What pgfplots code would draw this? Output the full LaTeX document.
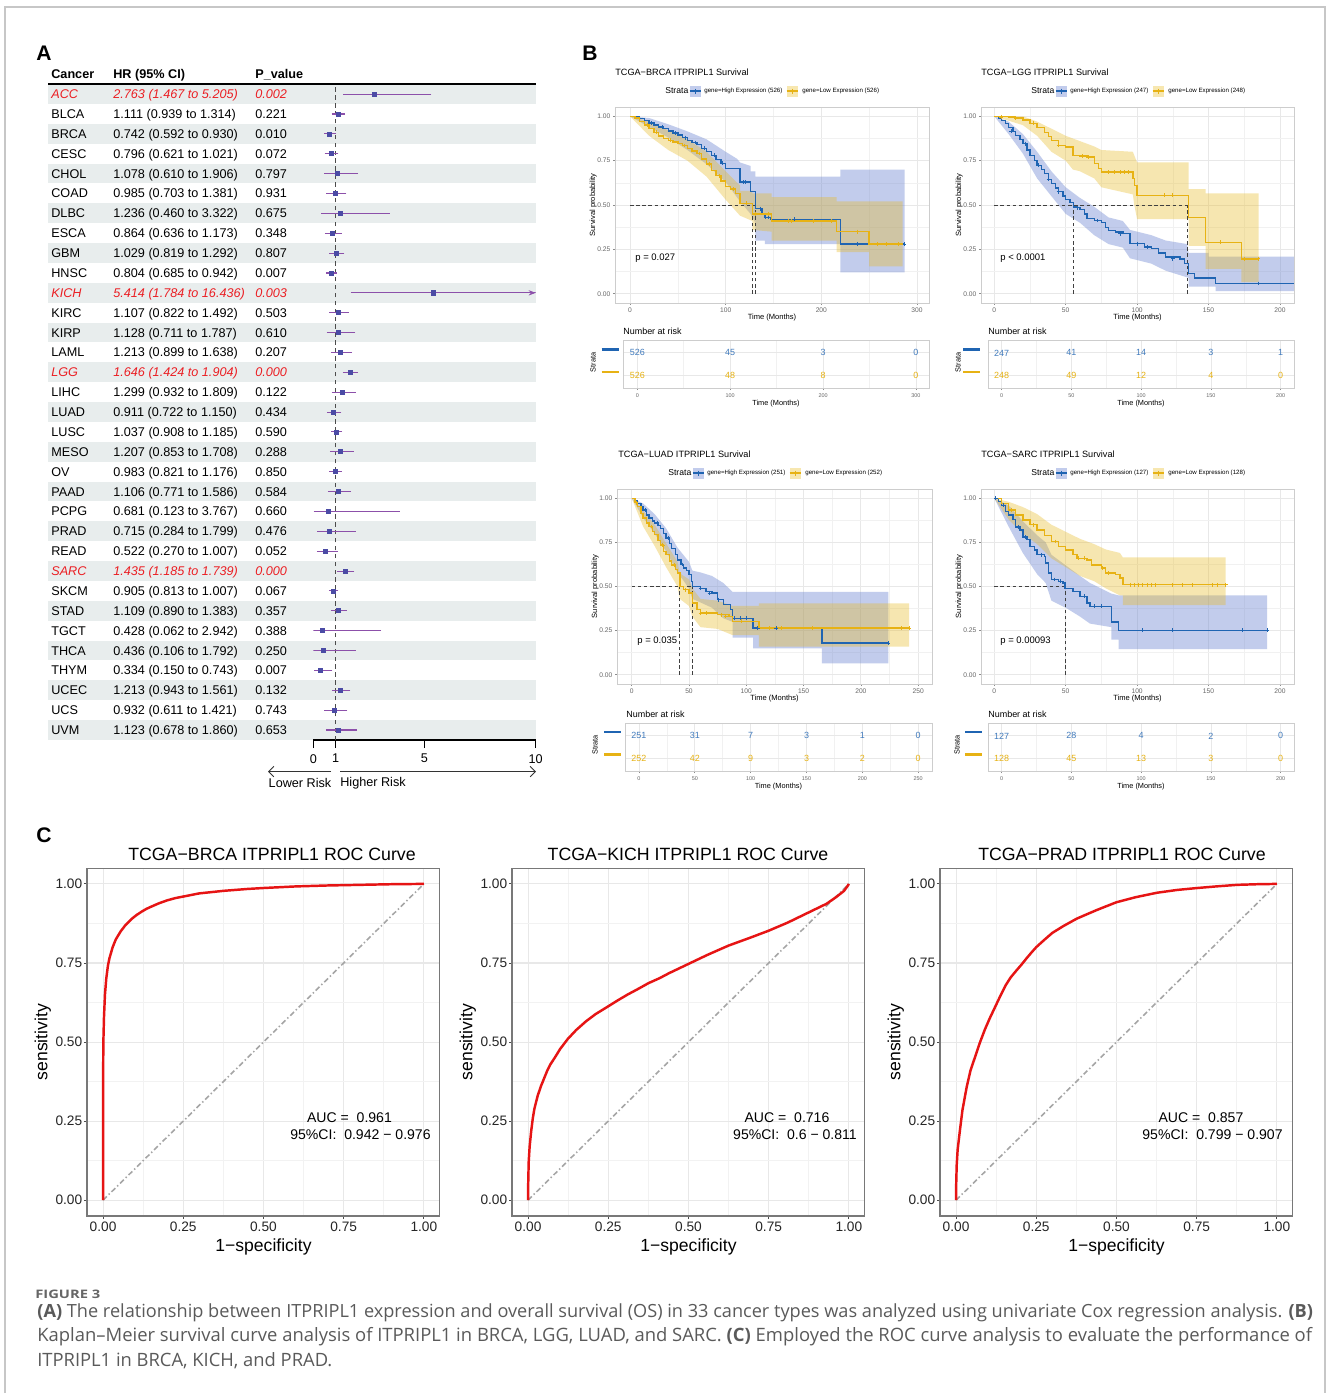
\documentclass[border=0pt]{standalone}
\usepackage{fontspec}
\setmainfont{Liberation Sans}
\newfontfamily\capfont{Open Sans}
\usepackage{graphicx}
\usepackage{pgfplots}
\usepackage{pgfplotstable}
\pgfplotsset{compat=1.18}
\usetikzlibrary{arrows.meta}

\definecolor{fred}{RGB}{235,30,35}
\definecolor{rowbg}{RGB}{232,237,237}
\definecolor{ciline}{RGB}{140,80,170}
\definecolor{cipt}{RGB}{75,75,165}
\definecolor{kmblue}{RGB}{31,100,178}
\definecolor{kmyel}{RGB}{231,178,20}
\definecolor{kmbluer}{RGB}{110,135,210}
\definecolor{kmyelr}{RGB}{232,185,30}
\definecolor{kmbluekey}{RGB}{194,204,236}
\definecolor{kmyelkey}{RGB}{247,231,176}
\definecolor{kmgrid}{RGB}{232,232,232}
\definecolor{kmframe}{RGB}{205,205,205}
\definecolor{rocred}{RGB}{230,20,20}
\definecolor{rocdiag}{RGB}{165,165,165}
\definecolor{rocframe}{RGB}{120,120,120}
\definecolor{capgray}{RGB}{90,90,90}

\newcommand\fs[1]{\fontsize{#1}{#1}\selectfont}

% forest plot: hazard ratios with 95% CI
\pgfplotstableread{
i hr lo hi
1 2.763 1.467 5.205
2 1.111 0.939 1.314
3 0.742 0.592 0.930
4 0.796 0.621 1.021
5 1.078 0.610 1.906
6 0.985 0.703 1.381
7 1.236 0.460 3.322
8 0.864 0.636 1.173
9 1.029 0.819 1.292
10 0.804 0.685 0.942
11 5.414 1.784 16.436
12 1.107 0.822 1.492
13 1.128 0.711 1.787
14 1.213 0.899 1.638
15 1.646 1.424 1.904
16 1.299 0.932 1.809
17 0.911 0.722 1.150
18 1.037 0.908 1.185
19 1.207 0.853 1.708
20 0.983 0.821 1.176
21 1.106 0.771 1.586
22 0.681 0.123 3.767
23 0.715 0.284 1.799
24 0.522 0.270 1.007
25 1.435 1.185 1.739
26 0.905 0.813 1.007
27 1.109 0.890 1.383
28 0.428 0.062 2.942
29 0.436 0.106 1.792
30 0.334 0.150 0.743
31 1.213 0.943 1.561
32 0.932 0.611 1.421
33 1.123 0.678 1.860
}\forestdata

\pgfplotsset{
  /pgf/number format/assume math mode=true,
  km/.style={scale only axis, anchor=south west,
    axis line style={kmframe, line width=0.5pt},
    grid=both,
    major grid style={kmgrid, line width=0.5pt},
    minor grid style={kmgrid!60, line width=0.3pt},
    tick pos=left, tick align=outside,
    major tick length=0.04cm, minor tick length=0cm,
    tick style={black!45, line width=0.4pt},
    ymin=-0.052, ymax=1.052,
    ytick={0,0.25,0.5,0.75,1}, yticklabels={0.00,0.25,0.50,0.75,1.00},
    minor ytick={0.125,0.375,0.625,0.875},
    tick label style={font=\fs{3.8}, text=black!60},
    xticklabel shift=-2pt, yticklabel shift=-2pt,
    xlabel={Time (Months)}, ylabel={Survival probability},
    label style={font=\fs{4.3}, text=black},
    xlabel shift=-6pt, ylabel shift=-6.5pt,
  },
  risk/.style={scale only axis, anchor=south west, height=0.96cm,
    ymin=0.42, ymax=2.58, ytick={1,2}, yticklabels={},
    axis line style={kmframe, line width=0.5pt},
    grid=both,
    major grid style={kmgrid, line width=0.5pt},
    minor grid style={kmgrid!60, line width=0.3pt},
    tick pos=left, tick align=outside,
    major tick length=0.04cm, minor tick length=0cm,
    xtick style={black!45, line width=0.4pt}, ytick style={draw=none},
    tick label style={font=\fs{3.1}, text=black!60},
    xticklabel shift=-1.5pt,
    xlabel={Time (Months)}, label style={font=\fs{4.2}, text=black},
    xlabel shift=-5.3pt,
  },
  rn/.style={draw=none, mark=none, nodes near coords, point meta=explicit symbolic,
    every node near coord/.append style={anchor=center, font=\fs{5.1}, text=#1}},
  roc/.style={scale only axis, anchor=south west, width=7.06cm, height=6.96cm,
    xmin=-0.05, xmax=1.05, ymin=-0.05, ymax=1.05,
    xtick={0,0.25,0.5,0.75,1}, ytick={0,0.25,0.5,0.75,1},
    xticklabels={0.00,0.25,0.50,0.75,1.00}, yticklabels={0.00,0.25,0.50,0.75,1.00},
    minor xtick={0.125,0.375,0.625,0.875}, minor ytick={0.125,0.375,0.625,0.875},
    grid=both,
    major grid style={kmgrid, line width=0.6pt},
    minor grid style={kmgrid!55, line width=0.35pt},
    axis line style={rocframe, line width=0.6pt},
    tick pos=left, tick align=outside,
    major tick length=0.06cm, minor tick length=0cm,
    tick style={black!70, line width=0.5pt},
    tick label style={font=\fs{7.8}, text=black!85},
    xticklabel shift=-2pt, yticklabel shift=-2.5pt,
    xlabel={1−specificity}, ylabel={sensitivity},
    label style={font=\fs{10}, text=black},
    xlabel shift=-2.5pt, ylabel shift=-4.3pt,
  },
  rib/.style={fill=#1, draw=none},
  kmline/.style={#1, const plot, line width=0.8pt},
  cens/.style={#1, only marks, mark=+, mark size=1.1pt, line width=0.4pt},
  med/.style={black!75, dash pattern=on 2pt off 1.5pt, line width=0.4pt, unbounded coords=jump},
  diag/.style={rocdiag, line width=0.9pt, dash pattern=on 3pt off 1.5pt on 0.8pt off 1.5pt},
  rocc/.style={rocred, line width=1.4pt, line join=round},
}

% one row of the forest table: index, name, HR text, p, text style
\newcommand\frow[5]{%
  \pgfmathsetmacro\yy{94+(#1-1)*19.875+4.6}%
  \node[anchor=base west, inner sep=0, font=\fs{7.2}] at (51,\yy) {#5#2};
  \node[anchor=base west, inner sep=0, font=\fs{7.2}] at (113,\yy) {#5#3};
  \node[anchor=base west, inner sep=0, font=\fs{7.2}] at (255,\yy) {#5#4};
}
% KM legend glyph: x, y, line colour, fill colour
\newcommand\kmkey[4]{%
  \fill[#4] (#1-5.5,#2-5.5) rectangle (#1+5.5,#2+5.5);
  \draw[#3, line width=0.7pt] (#1-5.5,#2) -- (#1+5.5,#2);
  \draw[#3, line width=0.45pt] (#1,#2-2.5) -- (#1,#2+2.5);
}
% KM header: title, x, y, n high, n low
\newcommand\kmhead[5]{%
  \node[anchor=base west, inner sep=0, font=\fs{5.2}] at (#2,#3) {#1};
  \node[anchor=west, inner sep=0, font=\fs{4.9}] at (#2+50,#3+16) {Strata};
  \kmkey{#2+80}{#3+16}{kmblue}{kmbluekey}
  \node[anchor=west, inner sep=0, font=\fs{3.5}] at (#2+89,#3+16) {gene=High Expression (#4)};
  \kmkey{#2+177}{#3+16}{kmyel}{kmyelkey}
  \node[anchor=west, inner sep=0, font=\fs{3.5}] at (#2+187,#3+16) {gene=Low Expression (#5)};
}
% risk table side: x of keys, y of first row, x of title, x of Strata
\newcommand\kmside[4]{%
  \node[anchor=west, inner sep=0, font=\fs{5.1}] at (#3,#2-18) {Number at risk};
  \draw[kmblue, line width=1.6pt] (#1,#2) -- (#1+17,#2);
  \draw[kmyel, line width=1.6pt] (#1,#2+22.5) -- (#1+17,#2+22.5);
  \node[rotate=90, inner sep=0, font=\fs{4.2}] at (#4,#2+13) {Strata};
}

\begin{document}
\begin{tikzpicture}[x=0.02cm, y=-0.02cm]
\fill[white] (0,0) rectangle (1328,1394);
\draw[black!22, line width=0.6pt] (5,1393) -- (5,7) -- (1325,7) -- (1325,1393);

\coordinate (fA) at (313.3,740);
\coordinate (kA) at (615,303);
\coordinate (kB) at (981,303);
\coordinate (kC) at (617,684);
\coordinate (kD) at (981,684);
\coordinate (rA) at (623,388);
\coordinate (rB) at (988,388);
\coordinate (rC) at (625,771);
\coordinate (rD) at (988,771);
\coordinate (cA) at (87,1216);
\coordinate (cB) at (512,1216);
\coordinate (cC) at (940,1216);

% ---------------- panel A ----------------
\node[anchor=base west, inner sep=0, font=\fs{12}\bfseries] at (36,60) {A};
\foreach \i in {1,3,...,33} {
  \fill[rowbg] (48,{94+(\i-1)*19.875-9.94}) rectangle (536,{94+(\i-1)*19.875+9.94});
}
\node[anchor=base west, inner sep=0, font=\fs{7.2}\bfseries] at (51,78) {Cancer};
\node[anchor=base west, inner sep=0, font=\fs{7.2}\bfseries] at (113,78) {HR (95\% CI)};
\node[anchor=base west, inner sep=0, font=\fs{7.2}\bfseries] at (255,78) {P\_value};
\draw[black, line width=1.1pt] (48,84) -- (536,84);

\def\R{\color{fred}\itshape}
\frow{1}{ACC}{2.763 (1.467 to 5.205)}{0.002}{\R}
\frow{2}{BLCA}{1.111 (0.939 to 1.314)}{0.221}{}
\frow{3}{BRCA}{0.742 (0.592 to 0.930)}{0.010}{}
\frow{4}{CESC}{0.796 (0.621 to 1.021)}{0.072}{}
\frow{5}{CHOL}{1.078 (0.610 to 1.906)}{0.797}{}
\frow{6}{COAD}{0.985 (0.703 to 1.381)}{0.931}{}
\frow{7}{DLBC}{1.236 (0.460 to 3.322)}{0.675}{}
\frow{8}{ESCA}{0.864 (0.636 to 1.173)}{0.348}{}
\frow{9}{GBM}{1.029 (0.819 to 1.292)}{0.807}{}
\frow{10}{HNSC}{0.804 (0.685 to 0.942)}{0.007}{}
\frow{11}{KICH}{5.414 (1.784 to 16.436)}{0.003}{\R}
\frow{12}{KIRC}{1.107 (0.822 to 1.492)}{0.503}{}
\frow{13}{KIRP}{1.128 (0.711 to 1.787)}{0.610}{}
\frow{14}{LAML}{1.213 (0.899 to 1.638)}{0.207}{}
\frow{15}{LGG}{1.646 (1.424 to 1.904)}{0.000}{\R}
\frow{16}{LIHC}{1.299 (0.932 to 1.809)}{0.122}{}
\frow{17}{LUAD}{0.911 (0.722 to 1.150)}{0.434}{}
\frow{18}{LUSC}{1.037 (0.908 to 1.185)}{0.590}{}
\frow{19}{MESO}{1.207 (0.853 to 1.708)}{0.288}{}
\frow{20}{OV}{0.983 (0.821 to 1.176)}{0.850}{}
\frow{21}{PAAD}{1.106 (0.771 to 1.586)}{0.584}{}
\frow{22}{PCPG}{0.681 (0.123 to 3.767)}{0.660}{}
\frow{23}{PRAD}{0.715 (0.284 to 1.799)}{0.476}{}
\frow{24}{READ}{0.522 (0.270 to 1.007)}{0.052}{}
\frow{25}{SARC}{1.435 (1.185 to 1.739)}{0.000}{\R}
\frow{26}{SKCM}{0.905 (0.813 to 1.007)}{0.067}{}
\frow{27}{STAD}{1.109 (0.890 to 1.383)}{0.357}{}
\frow{28}{TGCT}{0.428 (0.062 to 2.942)}{0.388}{}
\frow{29}{THCA}{0.436 (0.106 to 1.792)}{0.250}{}
\frow{30}{THYM}{0.334 (0.150 to 0.743)}{0.007}{}
\frow{31}{UCEC}{1.213 (0.943 to 1.561)}{0.132}{}
\frow{32}{UCS}{0.932 (0.611 to 1.421)}{0.743}{}
\frow{33}{UVM}{1.123 (0.678 to 1.860)}{0.653}{}

\begin{axis}[scale only axis, anchor=south west, at={(fA)},
  width=4.448cm, height=13.12cm,
  xmin=0, xmax=10, ymin=-33.503, ymax=-0.497,
  axis x line*=bottom, axis y line=none,
  xtick={0,1,5,10}, tick align=outside, major tick length=0.16cm,
  axis line style={black, line width=0.6pt}, xtick style={black, line width=0.6pt},
  tick label style={font=\fs{7.2}, text=black}]
\addplot[black!70, line width=0.5pt, dash pattern=on 2.5pt off 2pt] coordinates {(1,-33.503) (1,-0.497)};
\addplot[only marks, mark=square*, mark size=1.15pt, mark options={fill=cipt, draw=cipt},
  error bars/.cd, x dir=both, x explicit,
  error bar style={ciline, line width=0.6pt},
  error mark options={ciline, mark size=1.4pt, line width=0.6pt}]
  table[x=hr, y expr=-\thisrow{i},
        x error plus expr=\thisrow{hi}-\thisrow{hr},
        x error minus expr=\thisrow{hr}-\thisrow{lo}] {\forestdata};
\addplot[ciline, line width=0.6pt, -{Stealth[length=4pt, width=3pt]}] coordinates {(9,-11) (10,-11)};
\end{axis}
\node[anchor=center, font=\fs{7.2}] at (300,783) {Lower Risk};
\node[anchor=west, inner sep=0, font=\fs{7.2}] at (340,783) {Higher Risk};
\draw[black!80, line width=0.5pt, -{Straight Barb[length=3pt]}] (331,771.5) -- (268,771.5);
\draw[black!80, line width=0.5pt, -{Straight Barb[length=3pt]}] (340,771.5) -- (536,771.5);

% ---------------- panel B ----------------
\node[anchor=base west, inner sep=0, font=\fs{12}\bfseries] at (582,60) {B};
\kmhead{TCGA−BRCA ITPRIPL1 Survival}{615}{75}{526}{526}
\kmhead{TCGA−LGG ITPRIPL1 Survival}{981}{75}{247}{248}
\kmhead{TCGA−LUAD ITPRIPL1 Survival}{618}{457}{251}{252}
\kmhead{TCGA−SARC ITPRIPL1 Survival}{981}{457}{127}{128}

% BRCA
\begin{axis}[km, at={(kA)}, width=6.28cm, height=3.92cm, xmin=-15.7, xmax=312.5,
  xtick={0,100,200,300}, minor xtick={50,150,250}]
\addplot[rib=kmbluer, fill opacity=0.42] coordinates {(0,1) (20,0.99) (40,0.955) (60,0.915) (80,0.87) (100,0.80) (112,0.76) (115,0.74) (126,0.72) (126,0.69) (131,0.69) (131,0.66) (220,0.66) (220,0.70) (287,0.70)
  (287,0.12) (220,0.12) (220,0.28) (141,0.28) (141,0.30) (131,0.30) (131,0.40) (126,0.45) (115,0.52) (100,0.63) (80,0.73) (60,0.81) (40,0.88) (20,0.94) (0,1)};
\addplot[rib=kmyelr, fill opacity=0.35] coordinates {(0,1) (20,0.97) (40,0.92) (60,0.87) (80,0.80) (100,0.69) (115,0.61) (115,0.58) (128,0.58) (128,0.565) (148,0.565) (148,0.545) (216,0.545) (216,0.52) (285,0.52)
  (285,0.155) (250,0.155) (250,0.235) (216,0.235) (216,0.30) (148,0.30) (148,0.35) (128,0.36) (128,0.41) (115,0.44) (100,0.53) (80,0.66) (60,0.75) (40,0.81) (20,0.89) (0,1)};
\addplot[med] coordinates {(0,0.5) (131,0.5) (nan,nan) (128,0) (128,0.5) (nan,nan) (131,0) (131,0.5)};
\addplot[kmline=kmblue] coordinates {(0,1) (5,0.995) (10,0.987) (15,0.975) (20,0.962) (25,0.95) (30,0.94) (35,0.93) (40,0.918) (45,0.905) (50,0.895) (55,0.88) (60,0.865) (65,0.852) (70,0.84) (75,0.82) (80,0.80) (85,0.78) (90,0.755) (95,0.735) (100,0.705) (115,0.63) (126,0.575) (131,0.48) (138,0.45) (141,0.43) (147,0.42) (220,0.28) (287,0.28)};
\addplot[kmline=kmyel] coordinates {(0,1) (5,0.99) (10,0.972) (15,0.95) (20,0.93) (25,0.91) (30,0.89) (35,0.875) (40,0.865) (45,0.855) (50,0.848) (55,0.835) (60,0.82) (65,0.805) (70,0.79) (75,0.76) (80,0.73) (85,0.695) (90,0.665) (95,0.635) (100,0.605) (105,0.59) (110,0.565) (115,0.51) (128,0.45) (148,0.41) (216,0.35) (250,0.28) (285,0.28)};
\addplot[cens=kmblue] coordinates {(22,0.962) (34,0.94) (47,0.905) (58,0.88) (68,0.852) (78,0.82) (88,0.78) (97,0.735) (118,0.63) (121,0.63) (136,0.48) (142,0.43) (145,0.43) (172,0.42) (238,0.28) (287,0.28)};
\addplot[cens=kmyel] coordinates {(18,0.95) (28,0.91) (42,0.865) (57,0.835) (72,0.79) (83,0.73) (93,0.665) (108,0.59) (122,0.51) (131,0.45) (145,0.45) (165,0.41) (169,0.41) (192,0.41) (210,0.41) (238,0.35) (259,0.28) (268,0.28) (280,0.28)};
\end{axis}
\node[anchor=west, inner sep=0, font=\fs{5.4}] at (635,258) {p = 0.027};

% LGG
\begin{axis}[km, at={(kB)}, width=6.26cm, height=3.92cm, xmin=-9.3, xmax=209.8,
  xtick={0,50,100,150,200}, minor xtick={25,75,125,175}]
\addplot[rib=kmbluer, fill opacity=0.42] coordinates {(0,1) (10,0.97) (20,0.90) (30,0.80) (40,0.69) (50,0.60) (60,0.54) (70,0.49) (80,0.43) (90,0.41) (95,0.36) (110,0.33) (120,0.30) (135,0.28) (136,0.23) (150,0.23) (150,0.21) (210,0.21)
  (210,0.015) (155,0.015) (155,0.04) (136,0.04) (136,0.09) (120,0.13) (110,0.17) (95,0.20) (90,0.26) (80,0.28) (70,0.33) (60,0.40) (50,0.45) (40,0.55) (30,0.65) (20,0.79) (10,0.90) (0,1)};
\addplot[rib=kmyelr, fill opacity=0.35] coordinates {(0,1) (20,1) (30,0.97) (40,0.93) (50,0.89) (60,0.86) (70,0.83) (75,0.81) (97,0.80) (100,0.74) (136,0.74) (136,0.59) (148,0.59) (148,0.565) (185,0.565)
  (185,0.066) (173,0.066) (173,0.14) (148,0.14) (148,0.27) (136,0.27) (136,0.42) (100,0.42) (98,0.50) (97,0.56) (75,0.60) (70,0.65) (60,0.69) (55,0.70) (50,0.75) (40,0.80) (30,0.89) (20,0.95) (0,1)};
\addplot[med] coordinates {(0,0.5) (135.5,0.5) (nan,nan) (55.5,0) (55.5,0.5) (nan,nan) (135.5,0) (135.5,0.5)};
\addplot[kmline=kmblue] coordinates {(0,1) (3,0.99) (5,0.977) (8,0.96) (10,0.936) (13,0.915) (15,0.893) (18,0.87) (20,0.846) (23,0.81) (25,0.78) (28,0.75) (30,0.724) (33,0.70) (35,0.677) (38,0.645) (40,0.62) (43,0.595) (45,0.575) (48,0.55) (50,0.53) (53,0.515) (55.5,0.49) (58,0.485) (60,0.475) (63,0.45) (65,0.423) (70,0.413) (75,0.40) (78,0.375) (80,0.357) (85,0.348) (90,0.338) (95,0.282) (105,0.263) (110,0.254) (115,0.23) (120,0.207) (130,0.197) (133,0.17) (136,0.115) (140,0.09) (155,0.058) (210,0.058)};
\addplot[kmline=kmyel] coordinates {(0,1) (10,0.995) (15,0.99) (20,0.98) (25,0.96) (30,0.936) (35,0.91) (38,0.885) (40,0.865) (45,0.836) (50,0.827) (55,0.78) (60,0.776) (65,0.77) (70,0.733) (73,0.705) (75,0.686) (97,0.65) (98,0.61) (100,0.555) (136,0.43) (148,0.29) (173,0.197) (185,0.197)};
\addplot[cens=kmblue] coordinates {(12,0.915) (22,0.846) (31,0.724) (38,0.645) (45,0.575) (58,0.485) (72,0.413) (88,0.338) (100,0.282) (107,0.263) (125,0.197) (185,0.058)};
\addplot[cens=kmyel] coordinates {(5,0.995) (15,0.99) (27,0.96) (45,0.836) (62,0.776) (66,0.77) (80,0.686) (84,0.686) (88,0.686) (91,0.686) (94,0.686) (119,0.555) (125,0.555) (158,0.29) (175,0.197) (185,0.197)};
\end{axis}
\node[anchor=west, inner sep=0, font=\fs{5.4}] at (1000,258) {p < 0.0001};

% LUAD
\begin{axis}[km, at={(kC)}, width=6.30cm, height=3.90cm, xmin=-12.8, xmax=262,
  xtick={0,50,100,150,200,250}, minor xtick={25,75,125,175,225}]
\addplot[rib=kmbluer, fill opacity=0.42] coordinates {(0,1) (10,0.97) (20,0.91) (30,0.83) (40,0.72) (50,0.64) (53,0.59) (60,0.58) (70,0.56) (80,0.52) (88,0.47) (224,0.47)
  (224,0.065) (166,0.065) (166,0.15) (106,0.15) (106,0.21) (88,0.21) (88,0.30) (80,0.32) (70,0.38) (60,0.41) (53,0.43) (50,0.49) (40,0.58) (30,0.70) (20,0.80) (10,0.89) (0,1)};
\addplot[rib=kmyelr, fill opacity=0.35] coordinates {(0,1) (10,0.93) (20,0.85) (30,0.745) (40,0.64) (42,0.575) (50,0.54) (53,0.49) (60,0.43) (75,0.42) (88,0.39) (111,0.39) (111,0.405) (242,0.405)
  (242,0.16) (111,0.16) (111,0.225) (88,0.225) (75,0.26) (60,0.27) (53,0.33) (50,0.39) (42,0.43) (40,0.50) (30,0.61) (20,0.73) (10,0.84) (0,1)};
\addplot[med] coordinates {(0,0.5) (53,0.5) (nan,nan) (42,0) (42,0.5) (nan,nan) (53,0) (53,0.5)};
\addplot[kmline=kmblue] coordinates {(0,1) (3,0.985) (5,0.97) (8,0.95) (10,0.934) (13,0.905) (15,0.887) (18,0.87) (20,0.86) (23,0.845) (25,0.83) (28,0.80) (30,0.774) (33,0.745) (35,0.717) (38,0.68) (40,0.65) (43,0.625) (45,0.605) (48,0.59) (50,0.567) (52,0.53) (53,0.50) (60,0.49) (65,0.473) (70,0.463) (75,0.426) (80,0.397) (86,0.369) (88,0.32) (106,0.265) (166,0.18) (224,0.18)};
\addplot[kmline=kmyel] coordinates {(0,1) (3,0.975) (5,0.953) (8,0.915) (10,0.887) (13,0.86) (15,0.84) (18,0.81) (20,0.793) (23,0.76) (25,0.736) (28,0.70) (30,0.68) (33,0.645) (35,0.623) (38,0.595) (40,0.576) (42,0.50) (45,0.482) (50,0.463) (53,0.407) (57,0.369) (60,0.35) (75,0.34) (85,0.33) (88,0.303) (111,0.265) (242,0.265)};
\addplot[cens=kmblue] coordinates {(12,0.934) (22,0.86) (32,0.774) (44,0.625) (60,0.49) (68,0.463) (76,0.426) (90,0.32) (95,0.32) (100,0.32) (110,0.265) (126,0.265) (224,0.18)};
\addplot[cens=kmyel] coordinates {(4,0.975) (17,0.84) (27,0.736) (37,0.623) (47,0.482) (60,0.35) (65,0.35) (78,0.34) (82,0.33) (96,0.303) (120,0.265) (131,0.265) (158,0.265) (235,0.265) (242,0.265)};
\end{axis}
\node[anchor=west, inner sep=0, font=\fs{5.4}] at (637,641) {p = 0.035};

% SARC
\begin{axis}[km, at={(kD)}, width=6.26cm, height=3.90cm, xmin=-9.3, xmax=209.8,
  xtick={0,50,100,150,200}, minor xtick={25,75,125,175}]
\addplot[rib=kmbluer, fill opacity=0.42] coordinates {(0,1) (10,0.96) (20,0.87) (30,0.79) (36,0.75) (40,0.68) (50,0.62) (60,0.56) (67,0.52) (82,0.46) (87,0.45) (191,0.45)
  (191,0.145) (87,0.145) (87,0.20) (82,0.20) (82,0.27) (67,0.29) (60,0.33) (50,0.38) (40,0.42) (36,0.52) (30,0.57) (20,0.69) (10,0.84) (0,1)};
\addplot[rib=kmyelr, fill opacity=0.35] coordinates {(0,1) (10,0.98) (20,0.95) (30,0.91) (40,0.85) (50,0.81) (60,0.77) (70,0.74) (78,0.71) (88,0.69) (90,0.665) (162,0.665)
  (162,0.395) (90,0.395) (90,0.45) (88,0.45) (78,0.49) (70,0.53) (60,0.56) (50,0.61) (40,0.66) (30,0.74) (20,0.80) (10,0.88) (0,1)};
\addplot[med] coordinates {(0,0.5) (49.5,0.5) (nan,nan) (49.5,0) (49.5,0.5)};
\addplot[kmline=kmblue] coordinates {(0,1) (3,0.98) (5,0.96) (8,0.925) (10,0.906) (13,0.88) (15,0.836) (18,0.82) (20,0.78) (23,0.765) (25,0.727) (28,0.708) (30,0.68) (35,0.67) (36,0.633) (38,0.576) (40,0.54) (45,0.53) (48,0.52) (49.5,0.49) (55,0.473) (60,0.444) (65,0.407) (67,0.388) (82,0.30) (87,0.252) (191,0.252)};
\addplot[kmline=kmyel] coordinates {(0,1) (5,0.97) (10,0.934) (15,0.906) (20,0.877) (25,0.85) (30,0.82) (35,0.79) (40,0.755) (45,0.727) (50,0.708) (55,0.68) (58,0.66) (65,0.65) (68,0.623) (75,0.604) (78,0.576) (85,0.567) (88,0.548) (90,0.51) (162,0.51)};
\addplot[cens=kmblue] coordinates {(1,1) (6,0.96) (17,0.836) (22,0.78) (33,0.68) (42,0.54) (46,0.53) (63,0.444) (70,0.388) (75,0.388) (104,0.252) (125,0.252) (174,0.252) (191,0.252)};
\addplot[cens=kmyel] coordinates {(12,0.934) (27,0.85) (43,0.755) (59,0.66) (63,0.66) (76,0.604) (80,0.576) (95,0.51) (98,0.51) (101,0.51) (104,0.51) (107,0.51) (110,0.51) (113,0.51) (125,0.51) (132,0.51) (139,0.51) (153,0.51) (156,0.51) (162,0.51)};
\end{axis}
\node[anchor=west, inner sep=0, font=\fs{5.4}] at (1000,641) {p = 0.00093};

% risk tables
\kmside{601.5}{349.5}{623}{593}
\kmside{963}{349.5}{988}{958}
\kmside{604}{732}{626}{595}
\kmside{965}{732}{988}{957}
\begin{axis}[risk, at={(rA)}, width=6.12cm, xmin=-15.4, xmax=314,
  xtick={0,100,200,300}, minor xtick={50,150,250}]
\addplot[rn=kmblue!85] coordinates {(0,2) [526] (100,2) [45] (200,2) [3] (300,2) [0]};
\addplot[rn=kmyel] coordinates {(0,1) [526] (100,1) [48] (200,1) [8] (300,1) [0]};
\end{axis}
\begin{axis}[risk, at={(rB)}, width=6.12cm, xmin=-9.8, xmax=209.5,
  xtick={0,50,100,150,200}, minor xtick={25,75,125,175}]
\addplot[rn=kmblue!85] coordinates {(0,2) [247] (50,2) [41] (100,2) [14] (150,2) [3] (200,2) [1]};
\addplot[rn=kmyel] coordinates {(0,1) [248] (50,1) [49] (100,1) [12] (150,1) [4] (200,1) [0]};
\end{axis}
\begin{axis}[risk, at={(rC)}, width=6.14cm, xmin=-12.5, xmax=262.3,
  xtick={0,50,100,150,200,250}, minor xtick={25,75,125,175,225}]
\addplot[rn=kmblue!85] coordinates {(0,2) [251] (50,2) [31] (100,2) [7] (150,2) [3] (200,2) [1] (250,2) [0]};
\addplot[rn=kmyel] coordinates {(0,1) [252] (50,1) [42] (100,1) [9] (150,1) [3] (200,1) [2] (250,1) [0]};
\end{axis}
\begin{axis}[risk, at={(rD)}, width=6.12cm, xmin=-9.8, xmax=209.5,
  xtick={0,50,100,150,200}, minor xtick={25,75,125,175}]
\addplot[rn=kmblue!85] coordinates {(0,2) [127] (50,2) [28] (100,2) [4] (150,2) [2] (200,2) [0]};
\addplot[rn=kmyel] coordinates {(0,1) [128] (50,1) [45] (100,1) [13] (150,1) [3] (200,1) [0]};
\end{axis}

% ---------------- panel C ----------------
\node[anchor=base west, inner sep=0, font=\fs{12}\bfseries] at (36,842) {C};
\node[font=\fs{10.1}] at (272,854) {TCGA−BRCA ITPRIPL1 ROC Curve};
\node[font=\fs{10.1}] at (688,854) {TCGA−KICH ITPRIPL1 ROC Curve};
\node[font=\fs{10.1}] at (1122,854) {TCGA−PRAD ITPRIPL1 ROC Curve};

\begin{axis}[roc, at={(cA)}]
\addplot[diag] coordinates {(0,0) (1,1)};
\addplot[rocc] coordinates {(0,0) (0,0.35) (0.001,0.5) (0.003,0.58) (0.006,0.65) (0.01,0.70) (0.015,0.74) (0.02,0.765) (0.03,0.80) (0.04,0.825) (0.055,0.85) (0.07,0.87) (0.09,0.89) (0.105,0.902) (0.12,0.912) (0.135,0.921) (0.15,0.928) (0.175,0.939) (0.2,0.948) (0.225,0.955) (0.25,0.96) (0.3,0.97) (0.375,0.978) (0.45,0.984) (0.5,0.987) (0.6,0.992) (0.7,0.995) (0.8,0.997) (0.9,0.999) (1,1)};
\end{axis}
\node[font=\fs{8}] at (349.5,1118) {AUC =\ \ 0.961};
\node[font=\fs{8}] at (360.5,1135) {95\%CI:\ \ 0.942 − 0.976};

\begin{axis}[roc, at={(cB)}]
\addplot[diag] coordinates {(0,0) (1,1)};
\addplot[rocc] coordinates {(0,0) (0.0005,0.05) (0.002,0.12) (0.005,0.17) (0.01,0.22) (0.015,0.26) (0.02,0.29) (0.03,0.33) (0.04,0.36) (0.05,0.385) (0.06,0.41) (0.07,0.43) (0.083,0.45) (0.1,0.478) (0.124,0.51) (0.15,0.538) (0.18,0.565) (0.21,0.588) (0.25,0.613) (0.28,0.632) (0.31,0.65) (0.345,0.669) (0.375,0.686) (0.41,0.702) (0.44,0.718) (0.5,0.747) (0.56,0.776) (0.625,0.805) (0.69,0.829) (0.75,0.852) (0.81,0.878) (0.875,0.91) (0.93,0.937) (0.96,0.958) (0.985,0.978) (0.997,0.995) (1,1)};
\end{axis}
\node[font=\fs{8}] at (787,1118) {AUC =\ \ 0.716};
\node[font=\fs{8}] at (795,1135) {95\%CI:\ \ 0.6 − 0.811};

\begin{axis}[roc, at={(cC)}]
\addplot[diag] coordinates {(0,0) (1,1)};
\addplot[rocc] coordinates {(0,0) (0.0005,0.05) (0.002,0.11) (0.005,0.16) (0.012,0.22) (0.02,0.285) (0.033,0.357) (0.045,0.41) (0.055,0.44) (0.064,0.467) (0.075,0.50) (0.09,0.54) (0.105,0.575) (0.126,0.62) (0.14,0.65) (0.155,0.68) (0.17,0.704) (0.188,0.726) (0.205,0.746) (0.22,0.765) (0.235,0.783) (0.25,0.80) (0.275,0.823) (0.3,0.845) (0.335,0.867) (0.376,0.89) (0.41,0.905) (0.44,0.918) (0.47,0.93) (0.5,0.942) (0.56,0.958) (0.626,0.972) (0.69,0.981) (0.752,0.987) (0.81,0.992) (0.876,0.997) (0.94,0.999) (1,1)};
\end{axis}
\node[font=\fs{8}] at (1201,1118) {AUC =\ \ 0.857};
\node[font=\fs{8}] at (1212.5,1135) {95\%CI:\ \ 0.799 − 0.907};

% ---------------- caption ----------------
\node[anchor=west, inner sep=0] at (35,1294.5) {\resizebox{1.3cm}{0.17cm}{\capfont\bfseries\color{black!60}FIGURE 3}};
\node[anchor=west, inner sep=0] at (37,1313) {\resizebox{25.52cm}{!}{\capfont\color{capgray}\textbf{(A)} The relationship between ITPRIPL1 expression and overall survival (OS) in 33 cancer types was analyzed using univariate Cox regression analysis. \textbf{(B)}}};
\node[anchor=west, inner sep=0] at (37,1337) {\resizebox{25.5cm}{!}{\capfont\color{capgray}Kaplan–Meier survival curve analysis of ITPRIPL1 in BRCA, LGG, LUAD, and SARC. \textbf{(C)} Employed the ROC curve analysis to evaluate the performance of}};
\node[anchor=west, inner sep=0] at (37,1361) {\resizebox{5.9cm}{!}{\capfont\color{capgray}ITPRIPL1 in BRCA, KICH, and PRAD.}};
\end{tikzpicture}
\end{document}
